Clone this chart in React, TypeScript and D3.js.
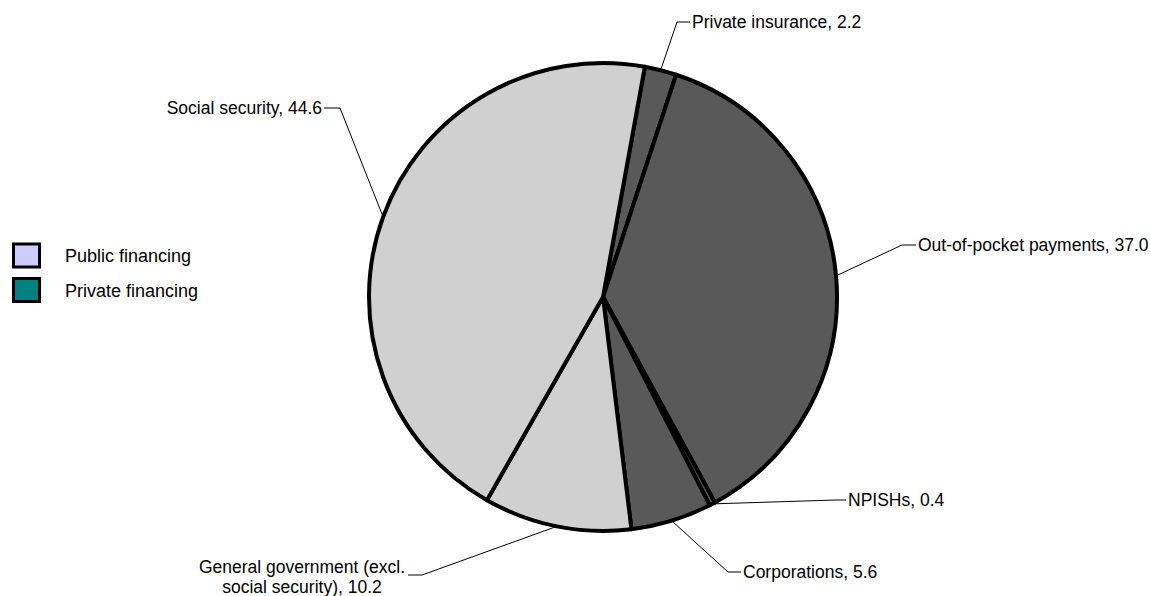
import { useEffect, useRef } from 'react';
import * as d3 from 'd3';

// financing shares, clockwise from the top
const categories = [
  'Private insurance',
  'Out-of-pocket payments',
  'NPISHs',
  'Corporations',
  'General government (excl. social security)',
  'Social security',
];
const shares = [2.2, 37.0, 0.4, 5.6, 10.2, 44.6];
const sectors = ['private', 'private', 'private', 'private', 'public', 'public'];
const legendLabels = ['Public financing', 'Private financing'];

// label layout: elbow point, horizontal tail direction, text lines
const labelLayout = [
  { ex: 677, ey: 22, dir: 1, tail: 13, lines: ['Private insurance, 2.2'] },
  { ex: 902, ey: 245, dir: 1, tail: 14, lines: ['Out-of-pocket payments, 37.0'] },
  { ex: 836, ey: 500, dir: 1, tail: 10, lines: ['NPISHs, 0.4'] },
  { ex: 728, ey: 572, dir: 1, tail: 13, lines: ['Corporations, 5.6'] },
  { ex: 422, ey: 575, dir: -1, tail: 14, lines: ['General government (excl.', 'social security), 10.2'] },
  { ex: 340, ey: 108, dir: -1, tail: 16, lines: ['Social security, 44.6'] },
];

const W = 1150;
const H = 596;
const FONT = 'Arial, "Liberation Sans", sans-serif';

export default function App() {
  const svgRef = useRef<SVGSVGElement>(null);

  useEffect(() => {
    if (!svgRef.current) return;
    const svg = d3.select(svgRef.current);
    svg.selectAll('*').remove();

    const cx = 603;
    const cy = 297;
    const r = 234;
    const start = (10.3 * Math.PI) / 180;

    const color = d3.scaleOrdinal<string, string>()
      .domain(['public', 'private'])
      .range(['#d0d0d0', '#595959']);

    const pie = d3.pie<number>()
      .sort(null)
      .startAngle(start)
      .endAngle(start + 2 * Math.PI);
    const arcs = pie(shares);
    const arc = d3.arc<d3.PieArcDatum<number>>().innerRadius(0).outerRadius(r);

    const g = svg.append('g').attr('transform', `translate(${cx},${cy})`);

    g.selectAll('path.slice')
      .data(arcs)
      .join('path')
      .attr('class', 'slice')
      .attr('d', arc)
      .attr('fill', (_, i) => color(sectors[i]))
      .attr('stroke', '#000')
      .attr('stroke-width', 4)
      .attr('stroke-linejoin', 'round');

    // leader lines + labels
    arcs.forEach((a, i) => {
      const mid = (a.startAngle + a.endAngle) / 2;
      const px = cx + r * Math.sin(mid);
      const py = cy - r * Math.cos(mid);
      const L = labelLayout[i];
      const hx = L.ex + L.dir * L.tail;
      svg.append('polyline')
        .attr('points', `${px},${py} ${L.ex},${L.ey} ${hx},${L.ey}`)
        .attr('fill', 'none')
        .attr('stroke', '#000')
        .attr('stroke-width', 1);

      const t = svg.append('text')
        .attr('font-family', FONT)
        .attr('font-size', 17.5)
        .attr('fill', '#000');
      if (L.lines.length === 1) {
        t.attr('x', hx + L.dir * 2)
          .attr('y', L.ey + 6)
          .attr('text-anchor', L.dir > 0 ? 'start' : 'end')
          .text(L.lines[0]);
      } else {
        const tx = 302;
        L.lines.forEach((ln, k) => {
          t.append('tspan')
            .attr('x', tx)
            .attr('y', L.ey - 2 + k * 20)
            .attr('text-anchor', 'middle')
            .text(ln);
        });
      }
    });

    // legend
    const legColor = d3.scaleOrdinal<string, string>()
      .domain(legendLabels)
      .range(['#ccccff', '#008080']);
    const legY = d3.scalePoint<string>().domain(legendLabels).range([255.5, 290]);
    const lg = svg.append('g');
    legendLabels.forEach(lbl => {
      const y = legY(lbl) as number;
      lg.append('rect')
        .attr('x', 13.5)
        .attr('y', y - 11.5)
        .attr('width', 26)
        .attr('height', 23)
        .attr('fill', legColor(lbl))
        .attr('stroke', '#000')
        .attr('stroke-width', 3);
      lg.append('text')
        .attr('x', 65)
        .attr('y', y + 6.5)
        .attr('font-family', FONT)
        .attr('font-size', 18)
        .text(lbl);
    });
  }, []);

  return (
    <svg
      ref={svgRef}
      width={W}
      height={H}
      style={{ position: 'absolute', left: 0, top: 0, background: '#fff' }}
    />
  );
}
